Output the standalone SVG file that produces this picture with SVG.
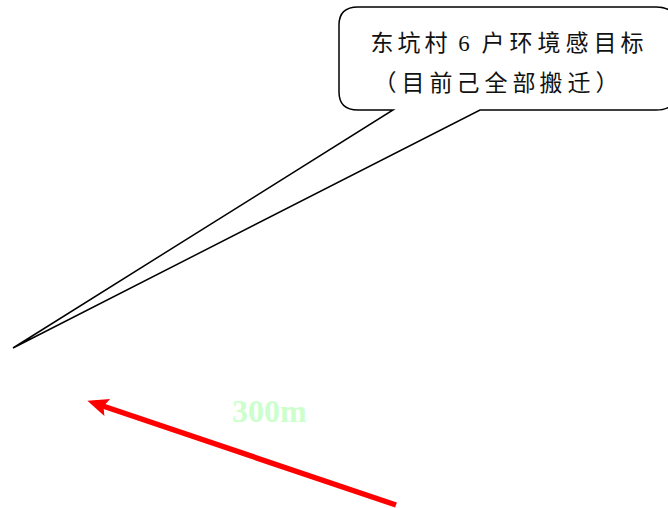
<svg xmlns="http://www.w3.org/2000/svg" width="668" height="508" viewBox="0 0 668 508">
<style>
.callout{fill:#fff;stroke:#000;stroke-width:1.5;stroke-linejoin:miter}
.cjk{font-family:"Liberation Serif","Noto Sans CJK SC",serif;font-size:23px;fill:#111;text-anchor:middle}
.dist{font-family:"Liberation Serif",serif;font-weight:bold;font-size:32px;fill:#ccffcc}
</style>
<defs>
<marker id="redhead" markerUnits="userSpaceOnUse" markerWidth="24" markerHeight="20" refX="14" refY="9" orient="auto">
<path d="M0,0 L21,9 L0,18 L4,9 Z" fill="#ff0000"/>
</marker>
</defs>
<g id="callout">
<path class="callout" d="M358,7 L656,7 Q676,7 676,25 L676,92 Q676,110 656,110 L480,110 L13,348 L393,110 L358,110 Q339,110 339,92 L339,25 Q339,7 358,7 Z"/>
<text class="cjk" x="382 409 436 464 493 521 549 577 605 632" y="51">东坑村6户环境感目标</text>
<text class="cjk" x="385 413 441 468 496 524 551 579 607" y="91">（目前己全部搬迁）</text>
</g>
<g id="connectors">
<line x1="396" y1="505" x2="94" y2="403" stroke="#ff0000" stroke-width="5.5" marker-end="url(#redhead)"/>
</g>
<g id="label-300m">
<text class="dist" x="232" y="422">300m</text>
</g>
</svg>
